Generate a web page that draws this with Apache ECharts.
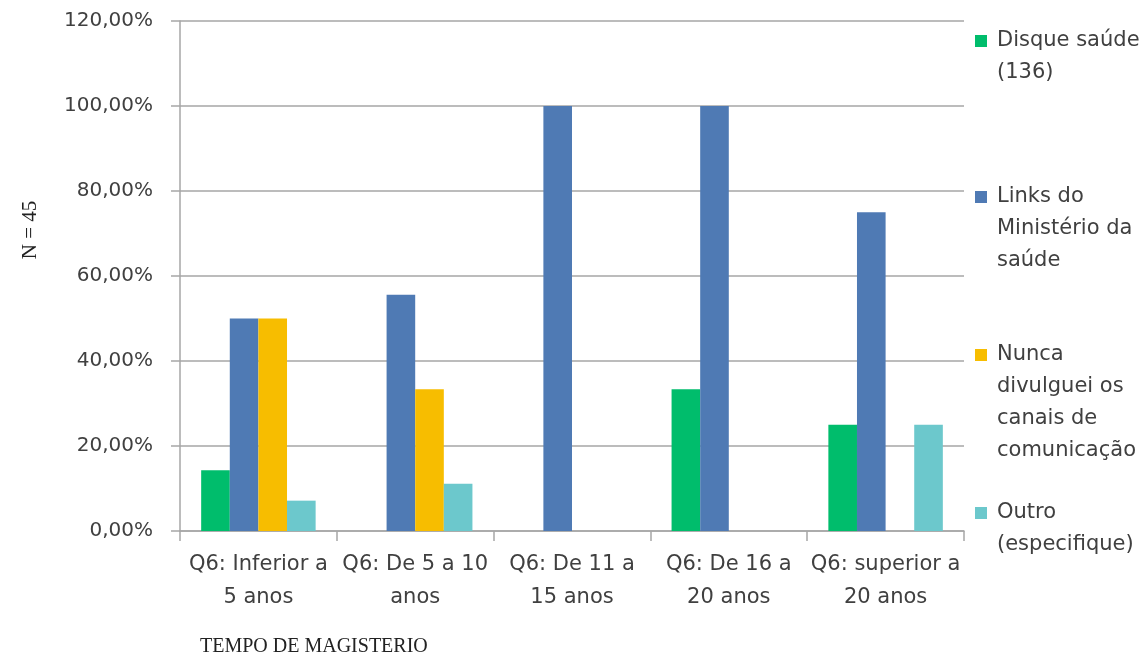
<!DOCTYPE html>
<html>
<head>
<meta charset="utf-8">
<script src="https://cdn.jsdelivr.net/npm/echarts@6/dist/echarts.min.js"></script>
<style>
  html, body { margin: 0; padding: 0; background: #fff; }
  #chart { width: 1144px; height: 659px; }
</style>
</head>
<body>
<div id="chart"></div>
<script>
// Teaching time bands (two-line labels)
var categories = [
  'Q6: Inferior a\n5 anos',
  'Q6: De 5 a 10\nanos',
  'Q6: De 11 a\n15 anos',
  'Q6: De 16 a\n20 anos',
  'Q6: superior a\n20 anos'
];

// Share of respondents per channel, in percent
var disqueSaude = [14.29, 0, 0, 33.33, 25];
var linksMinisterio = [50, 55.56, 100, 100, 75];
var nuncaDivulguei = [50, 33.33, 0, 0, 0];
var outro = [7.14, 11.11, 0, 0, 25];

var seriesNames = ['Disque saúde (136)', 'Links do Ministério da saúde', 'Nunca divulguei os canais de comunicação', 'Outro (especifique)'];
var legendLines = [
  ['Disque saúde', '(136)'],
  ['Links do', 'Ministério da', 'saúde'],
  ['Nunca', 'divulguei os', 'canais de', 'comunicação'],
  ['Outro', '(especifique)']
];
var seriesData = [disqueSaude, linksMinisterio, nuncaDivulguei, outro];
var colors = ['#00bd6c', '#4f7ab4', '#f7bd00', '#6cc8cc'];

var FONT = '"DejaVu Sans", "Noto Sans", sans-serif';
var SERIF = '"Liberation Serif", "DejaVu Serif", serif';
var TEXT = '#404040';
var AXIS = '#a6a6a6';

var chart = echarts.init(document.getElementById('chart'), null, { renderer: 'canvas' });

// Right-hand legend: a square and wrapped label for each series
var legendTops = [41, 197, 355, 513];
var graphics = [];
legendLines.forEach(function (lines, i) {
  graphics.push({
    type: 'rect',
    left: 975,
    top: legendTops[i] - 6,
    shape: { width: 12, height: 12 },
    style: { fill: colors[i] }
  });
  graphics.push({
    type: 'text',
    left: 997,
    top: legendTops[i] - 16,
    style: {
      text: lines.join('\n'),
      font: '21px ' + FONT,
      lineHeight: 32,
      fill: TEXT
    }
  });
});

// Axis titles
graphics.push({
  type: 'text',
  x: 30,
  y: 230,
  rotation: Math.PI / 2,
  style: {
    text: 'N = 45',
    font: '21px ' + SERIF,
    fill: '#222',
    align: 'center',
    verticalAlign: 'middle'
  }
});
graphics.push({
  type: 'text',
  left: 200,
  top: 637,
  style: {
    text: 'TEMPO DE MAGISTERIO',
    font: '20px ' + SERIF,
    fill: '#222'
  }
});

var option = {
  backgroundColor: '#fff',
  animation: false,
  color: colors,
  grid: { left: 180, right: 180, top: 21, bottom: 128, containLabel: false },
  xAxis: {
    type: 'category',
    data: categories,
    axisLine: { lineStyle: { color: AXIS, width: 1.5 } },
    axisTick: { show: true, length: 10, interval: 0, lineStyle: { color: AXIS, width: 1.5 } },
    axisLabel: {
      interval: 0,
      margin: 17,
      color: TEXT,
      fontFamily: FONT,
      fontSize: 21,
      lineHeight: 33
    }
  },
  yAxis: {
    type: 'value',
    min: 0,
    max: 120,
    interval: 20,
    axisLine: { show: true, lineStyle: { color: AXIS, width: 1.5 } },
    axisTick: { show: true, length: 9, lineStyle: { color: AXIS, width: 1.5 } },
    splitLine: { lineStyle: { color: AXIS, width: 1.5 } },
    axisLabel: {
      margin: 27,
      color: TEXT,
      fontFamily: FONT,
      fontSize: 20,
      formatter: function (v) { return v.toFixed(2).replace('.', ',') + '%'; }
    }
  },
  graphic: graphics,
  series: seriesNames.map(function (name, i) {
    return {
      name: name,
      type: 'bar',
      data: seriesData[i],
      barGap: '0%',
      barCategoryGap: '27%',
      itemStyle: { color: colors[i] }
    };
  })
};

chart.setOption(option);
</script>
</body>
</html>
